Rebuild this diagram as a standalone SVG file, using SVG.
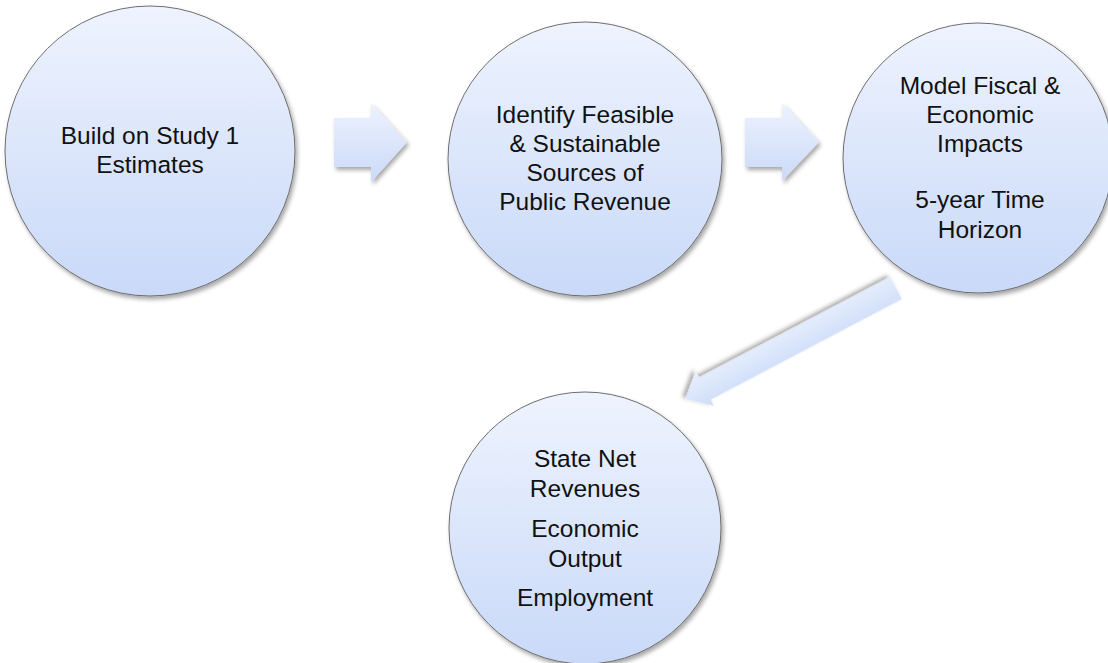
<svg xmlns="http://www.w3.org/2000/svg" width="1108" height="663" viewBox="0 0 1108 663">
  <defs>
    <linearGradient id="gCircle" x1="0" y1="0" x2="0" y2="1">
      <stop offset="0" stop-color="#eef3fe"/>
      <stop offset="1" stop-color="#c9d9f8"/>
    </linearGradient>
    <linearGradient id="gArrow" x1="0" y1="0" x2="0" y2="1">
      <stop offset="0" stop-color="#edf2fe"/>
      <stop offset="1" stop-color="#cbdaf8"/>
    </linearGradient>
    <linearGradient id="gArrowDiag" x1="0" y1="1" x2="0" y2="0">
      <stop offset="0" stop-color="#e9f0fd"/>
      <stop offset="1" stop-color="#cddcf9"/>
    </linearGradient>
    <filter id="shadow" x="-10%" y="-10%" width="125%" height="125%">
      <feDropShadow dx="2" dy="3" stdDeviation="2" flood-color="#000" flood-opacity="0.35"/>
    </filter>
  </defs>
  <style>
    .node circle { fill: url(#gCircle); stroke: #6e6e6e; stroke-width: 1; filter: url(#shadow); }
    .lbl { font-family: "Liberation Sans", Arial, sans-serif; font-size: 24.5px; fill: #111; text-anchor: middle; }
    .arrow { fill: url(#gArrow); filter: url(#shadow); }
  </style>
  <rect width="1108" height="663" fill="#ffffff"/>

  <g id="connectors">
    <polygon class="arrow" points="334,118 371,118 371,103 407,142 371,182 371,167 334,167"/>
    <polygon class="arrow" points="745,118 782,118 782,103 819,142 782,181 782,167 745,167"/>
    <g transform="translate(896,288) rotate(152.25)">
      <polygon points="0,-12.5 216,-12.5 216,-19.5 238,0 216,19.5 216,12.5 0,12.5" fill="url(#gArrowDiag)" filter="url(#shadow)"/>
    </g>
  </g>

  <g id="node-study1" class="node">
    <circle cx="150" cy="151" r="145"/>
    <text class="lbl" x="150" y="144">Build on Study 1</text>
    <text class="lbl" x="150" y="173">Estimates</text>
  </g>

  <g id="node-identify" class="node">
    <circle cx="585" cy="159" r="137"/>
    <text class="lbl" x="585" y="123">Identify Feasible</text>
    <text class="lbl" x="585" y="152">&amp; Sustainable</text>
    <text class="lbl" x="585" y="181">Sources of</text>
    <text class="lbl" x="585" y="210">Public Revenue</text>
  </g>

  <g id="node-model" class="node">
    <circle cx="978" cy="158" r="135"/>
    <text class="lbl" x="980" y="94">Model Fiscal &amp;</text>
    <text class="lbl" x="980" y="123">Economic</text>
    <text class="lbl" x="980" y="152">Impacts</text>
    <text class="lbl" x="980" y="208">5-year Time</text>
    <text class="lbl" x="980" y="238">Horizon</text>
  </g>

  <g id="node-outputs" class="node">
    <circle cx="585" cy="528" r="136"/>
    <text class="lbl" x="585" y="467">State Net</text>
    <text class="lbl" x="585" y="497">Revenues</text>
    <text class="lbl" x="585" y="537">Economic</text>
    <text class="lbl" x="585" y="567">Output</text>
    <text class="lbl" x="585" y="606">Employment</text>
  </g>
</svg>
